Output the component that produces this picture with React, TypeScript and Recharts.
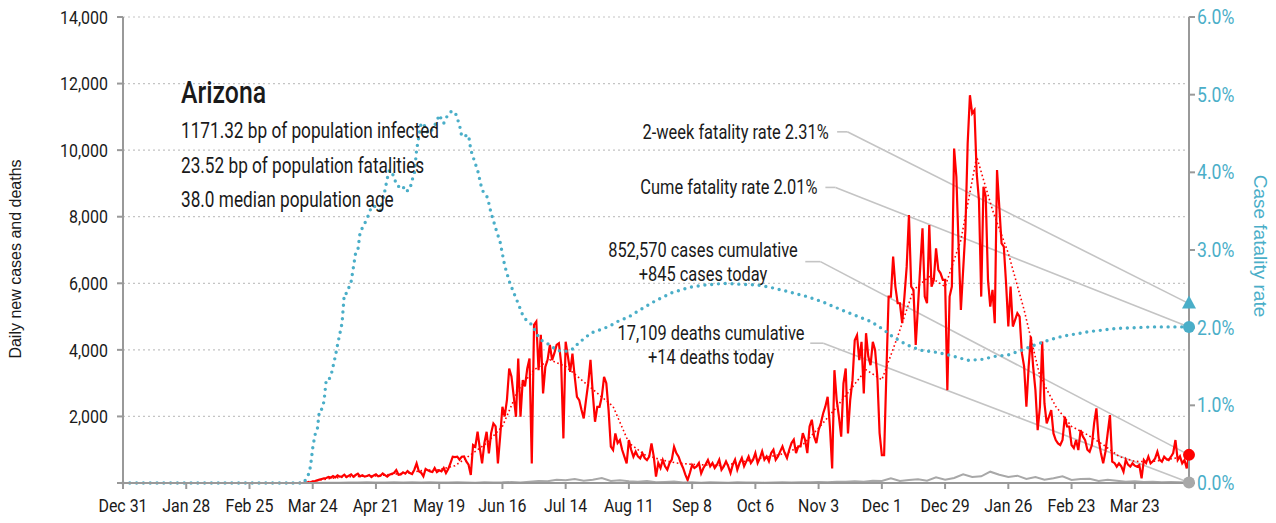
import {
  CartesianGrid,
  Line,
  LineChart,
  ReferenceDot,
  ReferenceLine,
  XAxis,
  YAxis,
} from "recharts";

const TEAL = "#4aaec8";
const RED = "#ff0000";
const GRAY = "#a8a8a8";
const AXIS = "#999999";
const LEADER = "#c4c4c4";
const INK = "#1a1a1a";
const FONT = "Roboto, 'Liberation Sans', sans-serif";
const REGULAR = "'Liberation Sans', Arial, sans-serif";
const SQUEEZE = 0.8;

// day 0 = Dec 31 2019, last day = Apr 15 2021
const LAST_DAY = 472;
const xTicks = [0, 28, 56, 84, 112, 140, 168, 196, 224, 252, 280, 308, 336, 364, 392, 420, 448];
const xLabels = [
  "Dec 31", "Jan 28", "Feb 25", "Mar 24", "Apr 21", "May 19", "Jun 16", "Jul 14", "Aug 11",
  "Sep 8", "Oct 6", "Nov 3", "Dec 1", "Dec 29", "Jan 26", "Feb 23", "Mar 23",
];
const leftTicks = [0, 2000, 4000, 6000, 8000, 10000, 12000, 14000];
const rightTicks = [0, 1, 2, 3, 4, 5, 6];

// daily new cases, from day 80
const CASES_START = 80;
const casesDaily = [
  0, 10, 20, 30, 45, 60, 80, 100, 120, 140,
  150, 180, 160, 210, 170, 230, 190, 200, 250, 180,
  220, 260, 190, 240, 280, 200, 230, 190, 210, 240,
  180, 230, 260, 200, 220, 290, 240, 190, 250, 280,
  300, 390, 250, 260, 320, 280, 360, 300, 270, 400,
  590, 350, 310, 200, 420, 380, 350, 330, 450, 330,
  380, 350, 450, 300, 420, 600, 790, 780, 790, 700,
  790, 800, 650, 550, 240, 1140, 1090, 1540, 1040, 590,
  1200, 1540, 890, 1500, 1790, 1700, 590, 1400, 2290, 2000,
  2500, 3440, 3200, 2600, 1990, 3740, 1990, 3090, 2900, 3440,
  3740, 590, 4750, 4850, 3390, 4450, 2690, 3490, 3700, 4150,
  3690, 3900, 4150, 4200, 3600, 1340, 4245, 3800, 3340, 3890,
  3200, 2590, 2490, 2200, 1940, 2490, 3000, 3700, 2700, 1840,
  2290, 2290, 2590, 3190, 3000, 2190, 1090, 990, 1490, 1200,
  1290, 1000, 790, 590, 1290, 1000, 790, 940, 800, 740,
  890, 750, 690, 790, 1190, 800, 190, 600, 450, 690,
  500, 400, 600, 700, 1090, 900, 790, 600, 450, 250,
  90, 300, 540, 450, 500, 600, 290, 450, 560, 690,
  500, 600, 450, 550, 700, 400, 500, 650, 500, 300,
  550, 700, 400, 600, 750, 500, 650, 800, 600, 700,
  900, 600, 750, 950, 700, 800, 650, 900, 1000, 700,
  800, 950, 1100, 900, 750, 1000, 1200, 1300, 900, 1100,
  1100, 1500, 1300, 900, 1700, 1900, 1400, 1200, 1590, 1800,
  2090, 2300, 2590, 1690, 440, 3390, 2500, 1990, 1390, 2990,
  3440, 1490, 2500, 3090, 4290, 4440, 3690, 4240, 2690, 4500,
  3800, 3540, 4240, 4000, 3190, 1500, 840, 840, 3290, 5600,
  5600, 6800, 5900, 5400, 5400, 4800, 5600, 6500, 8050, 5900,
  5800, 4150, 5300, 6500, 7650, 5600, 5400, 7750, 5900, 6100,
  7050, 6400, 6300, 6100, 6100, 2790, 5600, 5900, 10050, 9200,
  7100, 5200, 6400, 7600, 10200, 11650, 11100, 11200, 9300, 8500,
  5600, 8900, 8600, 6100, 5300, 5800, 4800, 9400, 8300, 7200,
  7100, 6000, 4700, 5900, 4700, 4900, 5100, 5000, 3900, 3500,
  2290, 3500, 4400, 3490, 2790, 1590, 2290, 4250, 2390, 1790,
  1990, 2190, 1490, 1290, 1190, 1140, 1290, 1990, 1700, 1690,
  1140, 1050, 1290, 990, 1590, 1400, 1290, 1000, 940, 1140,
  1800, 2240, 1290, 900, 590, 940, 1500, 2040, 640, 600,
  490, 590, 500, 340, 690, 550, 490, 590, 520, 490,
  540, 140, 690, 600, 790, 590, 650, 740, 940, 700,
  640, 790, 720, 690, 790, 900, 1290, 690, 800, 590,
  690, 440, 845,
];

// 7-day average cases, one value per week from day 0
const AVG_STEP = 7;
const avgCases = [
  0, 0, 0, 0, 0, 0, 0, 0, 0, 0,
  0, 5, 50, 130, 180, 200, 210, 260, 300, 380,
  400, 520, 850, 1200, 1700, 2800, 3400, 3700, 3500, 3100,
  2700, 2300, 1200, 850, 700, 600, 560, 540, 520, 620,
  720, 800, 900, 1150, 1650, 2200, 2800, 3400, 3100, 4400,
  5800, 6200, 5900, 7300, 9800, 8200, 6900, 5200, 3200, 2300,
  1700, 1450, 1150, 800, 650, 640, 700, 780,
];

// daily deaths, every 4th day from day 80
const DEATHS_START = 80;
const DEATHS_STEP = 4;
const deathsSampled = [
  0, 2, 4, 8, 10, 15, 12, 20, 18, 15,
  22, 12, 20, 14, 25, 18, 12, 20, 15, 10,
  25, 18, 20, 30, 15, 40, 60, 55, 95, 80,
  120, 70, 100, 150, 60, 80, 50, 40, 60, 20,
  30, 45, 15, 25, 10, 20, 15, 10, 20, 12,
  18, 10, 15, 20, 15, 25, 20, 30, 25, 40,
  35, 50, 40, 70, 60, 140, 60, 90, 110, 70,
  170, 100, 150, 260, 180, 200, 340, 250, 180, 220,
  120, 180, 100, 140, 200, 90, 120, 130, 60, 100,
  70, 40, 50, 30, 40, 20, 30, 25, 14,
];

// case fatality rate (%)
const cfrDays = [
  0, 20, 40, 60, 80, 82, 83, 84, 85, 86, 87, 88, 89, 90, 91, 92,
  94, 95, 97, 98, 99, 101, 103, 104, 105, 107, 109, 110, 112, 114, 116, 117, 118, 120, 121, 123,
  124, 125, 127, 128, 129, 130, 132, 133, 135, 137, 139, 140, 142, 143, 145, 147, 149, 150, 153, 154,
  156, 157, 158, 159, 161, 162, 163, 164, 165, 167, 169, 171, 173, 175, 177, 179, 181, 184, 186, 189,
  192, 195, 198, 200, 202, 204, 207, 210, 213, 216, 219, 224, 229, 236, 243, 251, 258, 266, 273, 281,
  288, 295, 303, 310, 318, 325, 331, 336, 341, 347, 353, 361, 368, 374, 380, 386, 392, 398, 404, 410,
  416, 422, 428, 434, 440, 448, 456, 464, 472,
];
const cfrPct = [
  0, 0, 0, 0, 0, 0.1, 0.21, 0.45, 0.62, 0.68, 0.94, 0.95, 1.05, 1.33, 1.33, 1.37,
  1.63, 1.78, 2.06, 2.44, 2.44, 2.59, 2.96, 3.0, 3.23, 3.34, 3.47, 3.56, 3.56, 3.51, 3.77, 3.92, 4.03, 3.95, 3.84, 3.8,
  3.82, 3.75, 3.78, 3.9, 3.98, 4.29, 4.63, 4.63, 4.5, 4.55, 4.66, 4.74, 4.63, 4.7, 4.78, 4.78, 4.61, 4.46, 4.48, 4.29,
  4.11, 4.03, 3.9, 3.77, 3.7, 3.6, 3.47, 3.38, 3.28, 3.1, 2.8, 2.6, 2.45, 2.31, 2.16, 2.08, 2.04, 1.88, 1.82, 1.78,
  1.71, 1.69, 1.71, 1.74, 1.82, 1.85, 1.93, 1.96, 1.99, 2.03, 2.08, 2.14, 2.23, 2.35, 2.45, 2.52, 2.55, 2.57, 2.56, 2.55,
  2.51, 2.46, 2.4, 2.33, 2.23, 2.15, 2.08, 1.99, 1.88, 1.78, 1.71, 1.68, 1.63, 1.58, 1.59, 1.63, 1.65, 1.71, 1.78, 1.84,
  1.89, 1.92, 1.95, 1.97, 1.99, 2.0, 2.01, 2.01, 2.01,
];

const twoWeekRate = 2.31;
const cumeRate = 2.01;
const casesToday = 845;
const deathsToday = 14;
const LEFT_MAX = 14000;
const RIGHT_MAX = 6;
const pctToLeft = LEFT_MAX / RIGHT_MAX;

type Row = { day: number; cases?: number; avg?: number; deaths?: number; cfr?: number };
const rows: Row[] = [];
for (let d = 0; d <= LAST_DAY; d++) rows.push({ day: d });
casesDaily.forEach((v, i) => (rows[CASES_START + i].cases = v));
avgCases.forEach((v, i) => (rows[i * AVG_STEP].avg = v));
deathsSampled.forEach((v, i) => (rows[DEATHS_START + i * DEATHS_STEP].deaths = v));
cfrDays.forEach((d, i) => (rows[d].cfr = cfrPct[i]));

// annotation leader lines: text end day, elbow day, text height and marker value (left units)
const leaders: [number, number, number, number][] = [
  [316.2, 320.7, 10550, twoWeekRate * pctToLeft],
  [311.0, 315.5, 8880, cumeRate * pctToLeft],
  [302.1, 308.8, 6650, casesToday],
  [304.3, 310.1, 4200, deathsToday],
];

// condensed tick text: squeeze horizontally around the anchor point
const squeezedTick =
  (fmt: (v: number) => string, fill: string, size: number, sx: number, dy: string) =>
  (props: any) => {
    const { x, y, payload, textAnchor } = props;
    return (
      <g transform={`translate(${x},${y})`}>
        <text
          transform={`scale(${sx},1)`}
          textAnchor={textAnchor}
          dy={dy}
          fill={fill}
          fontSize={size}
          fontFamily={FONT}
        >
          {fmt(payload.value)}
        </text>
      </g>
    );
  };

const Triangle = (props: any) => {
  const { cx, cy } = props;
  return <path d={`M${cx},${cy - 8} L${cx + 7},${cy + 5} L${cx - 7},${cy + 5} Z`} fill={TEAL} />;
};

const textBase: React.CSSProperties = {
  position: "absolute",
  fontFamily: FONT,
  color: INK,
  whiteSpace: "nowrap",
  lineHeight: 1,
};

export default function App() {
  return (
    <div style={{ position: "absolute", left: 0, top: 0, width: 1276, height: 523, background: "#fff" }}>
      <LineChart
        width={1276}
        height={523}
        data={rows}
        margin={{ top: 17, right: 0, bottom: 0, left: 0 }}
      >
        <CartesianGrid
          yAxisId="left"
          vertical={false}
          stroke="#c4c4c4"
          strokeDasharray="2 3"
          strokeWidth={1.2}
        />
        <XAxis
          dataKey="day"
          type="number"
          domain={[0, LAST_DAY]}
          ticks={xTicks}
          height={40}
          stroke={AXIS}
          strokeWidth={2}
          tickSize={6}
          tickMargin={9}
          tick={squeezedTick((v) => xLabels[xTicks.indexOf(v)] ?? "", INK, 19, 0.84, "0.71em")}
          interval={0}
        />
        <YAxis
          yAxisId="left"
          domain={[0, LEFT_MAX]}
          ticks={leftTicks}
          width={123}
          stroke={AXIS}
          strokeWidth={2}
          tickSize={6}
          tickMargin={9}
          tick={squeezedTick((v) => (v === 0 ? "" : v.toLocaleString("en-US")), INK, 19, 0.84, "0.355em")}
          interval={0}
        />
        <YAxis
          yAxisId="right"
          orientation="right"
          domain={[0, RIGHT_MAX]}
          ticks={rightTicks}
          width={87}
          stroke={AXIS}
          strokeWidth={2}
          tickSize={6}
          tickMargin={2}
          tick={squeezedTick((v) => `${v.toFixed(1)}%`, TEAL, 20, 0.88, "0.355em")}
          interval={0}
        />
        {leaders.map(([x0, x1, y0], i) => (
          <ReferenceLine
            key={`h${i}`}
            yAxisId="left"
            segment={[{ x: x0, y: y0 }, { x: x1, y: y0 }]}
            stroke={LEADER}
            strokeWidth={1.6}
            ifOverflow="visible"
          />
        ))}
        {leaders.map(([, x1, y0, y1], i) => (
          <ReferenceLine
            key={`d${i}`}
            yAxisId="left"
            segment={[{ x: x1, y: y0 }, { x: LAST_DAY, y: y1 }]}
            stroke={LEADER}
            strokeWidth={1.6}
            ifOverflow="visible"
          />
        ))}
        <Line
          yAxisId="left"
          dataKey="cases"
          stroke={RED}
          strokeWidth={2.2}
          dot={false}
          connectNulls
          isAnimationActive={false}
        />
        <Line
          yAxisId="left"
          dataKey="avg"
          stroke={RED}
          strokeWidth={1.6}
          strokeDasharray="1.6 2.6"
          dot={false}
          connectNulls
          isAnimationActive={false}
        />
        <Line
          yAxisId="left"
          dataKey="deaths"
          stroke={GRAY}
          strokeWidth={2}
          dot={false}
          connectNulls
          isAnimationActive={false}
        />
        <Line
          yAxisId="right"
          dataKey="cfr"
          stroke={TEAL}
          strokeWidth={3.4}
          strokeDasharray="0 6.8"
          strokeLinecap="round"
          dot={false}
          connectNulls
          isAnimationActive={false}
        />
        <ReferenceDot yAxisId="right" x={LAST_DAY} y={twoWeekRate} shape={Triangle} ifOverflow="visible" />
        <ReferenceDot yAxisId="right" x={LAST_DAY} y={cumeRate} r={6} fill={TEAL} stroke="none" ifOverflow="visible" />
        <ReferenceDot yAxisId="left" x={LAST_DAY} y={casesToday} r={6} fill={RED} stroke="none" ifOverflow="visible" />
        <ReferenceDot yAxisId="left" x={LAST_DAY} y={deathsToday} r={6} fill={GRAY} stroke="none" ifOverflow="visible" />
      </LineChart>

      <div style={{ ...textBase, left: 181, top: 92, fontSize: 31, fontWeight: 500, transformOrigin: "left center", transform: `translateY(-50%) scaleX(${SQUEEZE})` }}>
        Arizona
      </div>
      <div style={{ ...textBase, left: 181, top: 131, fontSize: 21.5, transformOrigin: "left center", transform: `translateY(-50%) scaleX(${SQUEEZE})` }}>
        1171.32 bp of population infected
      </div>
      <div style={{ ...textBase, left: 181, top: 166, fontSize: 21.5, transformOrigin: "left center", transform: `translateY(-50%) scaleX(${SQUEEZE})` }}>
        23.52 bp of population fatalities
      </div>
      <div style={{ ...textBase, left: 181, top: 200, fontSize: 21.5, transformOrigin: "left center", transform: `translateY(-50%) scaleX(${SQUEEZE})` }}>
        38.0 median population age
      </div>

      <div style={{ ...textBase, right: 1276 - 829, top: 132, fontSize: 20.5, transformOrigin: "right center", transform: `translateY(-50%) scaleX(${SQUEEZE})` }}>
        2-week fatality rate 2.31%
      </div>
      <div style={{ ...textBase, right: 1276 - 818, top: 187, fontSize: 20.5, transformOrigin: "right center", transform: `translateY(-50%) scaleX(${SQUEEZE})` }}>
        Cume fatality rate 2.01%
      </div>
      <div
        style={{ ...textBase, left: 703, top: 262, fontSize: 20.5, textAlign: "center", lineHeight: "24px", transform: `translate(-50%,-50%) scaleX(${SQUEEZE})` }}
      >
        852,570 cases cumulative
        <br />
        +845 cases today
      </div>
      <div
        style={{ ...textBase, left: 711, top: 345, fontSize: 20.5, textAlign: "center", lineHeight: "24px", transform: `translate(-50%,-50%) scaleX(${SQUEEZE})` }}
      >
        17,109 deaths cumulative
        <br />
        +14 deaths today
      </div>

      <div
        style={{ ...textBase, fontFamily: REGULAR, left: 16, top: 259, fontSize: 16, transform: "translate(-50%,-50%) rotate(-90deg)" }}
      >
        Daily new cases and deaths
      </div>
      <div
        style={{ ...textBase, fontFamily: REGULAR, color: TEAL, left: 1260, top: 246, fontSize: 19, transform: "translate(-50%,-50%) rotate(90deg)" }}
      >
        Case fatality rate
      </div>
    </div>
  );
}
